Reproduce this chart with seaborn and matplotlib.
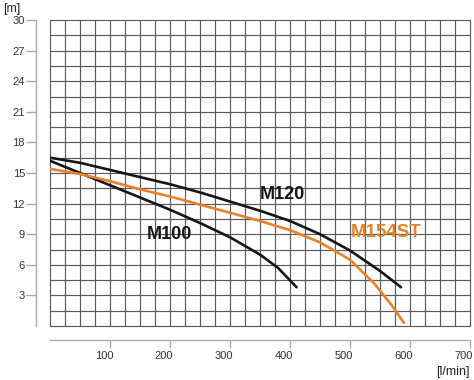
import matplotlib
matplotlib.use("Agg")
import matplotlib.pyplot as plt
from matplotlib.transforms import ScaledTranslation
import numpy as np
import pandas as pd
import seaborn as sns

# pump curves: flow [l/min] -> head [m]
m100_flow = [0, 50, 100, 150, 200, 250, 300, 350, 380, 411]
m100_head = [16.2, 15.0, 13.8, 12.6, 11.4, 10.1, 8.7, 7.0, 5.7, 3.8]

m120_flow = [0, 50, 100, 150, 200, 250, 300, 350, 400, 450, 500, 550, 585]
m120_head = [16.5, 16.0, 15.3, 14.6, 13.9, 13.1, 12.2, 11.3, 10.3, 9.0, 7.4, 5.4, 3.8]

m154_flow = [0, 50, 100, 150, 200, 250, 300, 350, 400, 450, 500, 540, 570, 590]
m154_head = [15.4, 14.9, 14.2, 13.4, 12.7, 11.9, 11.1, 10.3, 9.4, 8.2, 6.5, 4.2, 2.0, 0.3]

x_ticks = [100, 200, 300, 400, 500, 600, 700]
y_ticks = [3, 6, 9, 12, 15, 18, 21, 24, 27, 30]

ORANGE = "#E8822A"
BLACK = "#161616"

df = pd.concat([
    pd.DataFrame({"flow": m100_flow, "head": m100_head, "pump": "M100"}),
    pd.DataFrame({"flow": m120_flow, "head": m120_head, "pump": "M120"}),
    pd.DataFrame({"flow": m154_flow, "head": m154_head, "pump": "M154ST"}),
])

sns.set_style("white")
plt.rcParams["font.family"] = ["Liberation Sans", "DejaVu Sans"]

fig = plt.figure(figsize=(4.74, 3.80), dpi=100)
ax = fig.add_axes([50 / 474, 54 / 380, 420 / 474, 306 / 380])

# grid drawn by hand so the outer lines are not clipped
for v in np.arange(0, 701, 25):
    ax.axvline(v, color="#5a5a5a", lw=0.85, zorder=0, clip_on=False)
for h in np.arange(0, 30.01, 1.5):
    ax.axhline(h, color="#5a5a5a", lw=0.85, zorder=0, clip_on=False)

sns.lineplot(data=df, x="flow", y="head", hue="pump", units="pump",
             estimator=None, sort=False, ax=ax, legend=False, lw=1.9,
             palette={"M100": BLACK, "M120": BLACK, "M154ST": ORANGE})

ax.set_xlim(0, 700)
ax.set_ylim(0, 30)
ax.set_xticks(x_ticks)
ax.set_yticks(y_ticks)
ax.set_xlabel("")
ax.set_ylabel("")

sns.despine(ax=ax, offset=10)
for side in ("left", "bottom"):
    ax.spines[side].set_color("#aaaaaa")
    ax.spines[side].set_linewidth(1)
ax.tick_params(axis="y", direction="out", length=7, width=1, color="#aaaaaa",
               pad=1, labelsize=8, labelcolor="#333333", left=True)
ax.tick_params(axis="x", direction="out", length=6, width=1, color="#aaaaaa",
               pad=2, labelsize=8, labelcolor="#333333", bottom=True)

# x labels sit a little left of their ticks in the original
shift = ScaledTranslation(-6 / 100, 0, fig.dpi_scale_trans)
for lab in ax.get_xticklabels():
    lab.set_transform(lab.get_transform() + shift)

ax.text(199, 9.0, "M100", fontsize=13, fontweight="bold", color=BLACK,
        ha="center", va="center")
ax.text(388, 12.9, "M120", fontsize=13, fontweight="bold", color=BLACK,
        ha="center", va="center")
ax.text(561, 9.2, "M154ST", fontsize=13.5, fontweight="bold", color=ORANGE,
        ha="center", va="center")

fig.text(3 / 474, 1 - 9 / 380, "[m]", fontsize=9, color="#222222",
         ha="left", va="center")
fig.text(470 / 474, 1 - 372 / 380, "[l/min]", fontsize=9, color="#222222",
         ha="right", va="center")

fig.savefig("out.png", dpi=100)
